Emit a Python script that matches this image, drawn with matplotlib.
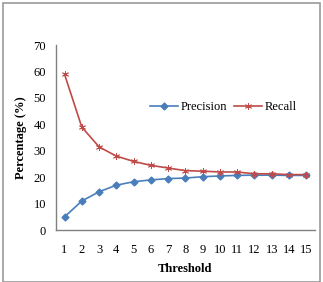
import matplotlib
matplotlib.use("Agg")
import matplotlib.pyplot as plt
from matplotlib.patches import Rectangle

# threshold values
thresholds = list(range(1, 16))
precision = [5, 11, 14.5, 17, 18.3, 19, 19.5, 19.7, 20.2, 20.5, 20.7, 20.8, 20.8, 20.7, 20.7]
recall = [59, 39, 31.5, 28, 26, 24.5, 23.5, 22.5, 22.3, 22, 22, 21.3, 21.3, 21, 21]

plt.rcParams['font.family'] = ['Liberation Serif', 'DejaVu Serif']

fig = plt.figure(figsize=[3.23, 2.82], dpi=100)
ax = fig.add_axes([0.173, 0.184, 0.802, 0.656])

ax.plot(thresholds, precision, color='#4a7ebb', marker='D', markersize=3.5,
        linewidth=1.2, label='Precision')
ax.plot(thresholds, recall, color='#be4b48', marker=(6, 2, 0), markersize=5,
        markeredgewidth=0.6, linewidth=1.2, label='Recall')

ax.set_xlim(0.5, 15.5)
ax.set_ylim(0, 70)
ax.set_xticks(thresholds)
ax.set_yticks(range(0, 71, 10))
ax.tick_params(length=0, labelsize=9, pad=7)
ax.tick_params(axis='x', pad=10)
for s in ['top', 'right']:
    ax.spines[s].set_visible(False)
for s in ['left', 'bottom']:
    ax.spines[s].set_color('#808080')
    ax.spines[s].set_linewidth(1)

ax.set_xlabel('Threshold', fontsize=9, fontweight='bold', labelpad=5)
ax.set_ylabel('Percentage (%)', fontsize=9, fontweight='bold', labelpad=5)

ax.legend(loc='center left', bbox_to_anchor=(0.34, 0.665), ncol=2, frameon=False,
          fontsize=9, handlelength=2.2, handletextpad=0.2, columnspacing=0.6,
          borderpad=0)

# gray border round the figure
fig.patches.append(Rectangle((0.008, 0.0), 0.984, 0.99, transform=fig.transFigure,
                             fill=False, edgecolor='#999999', linewidth=1.2))

fig.savefig('out.png', dpi=100)
